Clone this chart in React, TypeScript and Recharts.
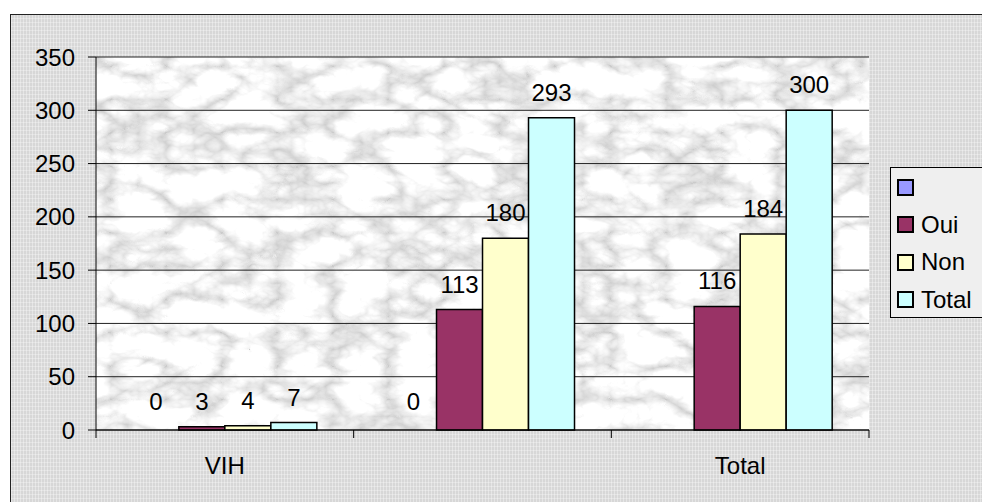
import { Bar, BarChart, CartesianGrid, LabelList, XAxis, YAxis } from "recharts";

const categories = ["VIH", "", "Total"];
const blankValues = [0, 0, null];
const ouiValues = [3, 113, 116];
const nonValues = [4, 180, 184];
const totalValues = [7, 293, 300];
const yTicks = [0, 50, 100, 150, 200, 250, 300, 350];

const series = [
  { key: "blank", name: "", values: blankValues, color: "#9999ff" },
  { key: "oui", name: "Oui", values: ouiValues, color: "#993366" },
  { key: "non", name: "Non", values: nonValues, color: "#ffffcc" },
  { key: "total", name: "Total", values: totalValues, color: "#ccffff" },
];

const data = categories.map((cat, i) => {
  const row: Record<string, string | number | null> = { cat };
  series.forEach((s) => {
    row[s.key] = s.values[i];
  });
  return row;
});

const W = 982;
const H = 502;
const margin = { top: 57, right: 113, bottom: 32, left: 36 };
const yAxisWidth = 60;
const band = (W - margin.left - margin.right - yAxisWidth) / categories.length;
const font = "'Liberation Sans', Arial, sans-serif";
const labelSize = 24;

function XTick(props: any) {
  const { x, y, payload, index } = props;
  return (
    <g>
      <line x1={x - band / 2} x2={x - band / 2} y1={y} y2={y + 8} stroke="#000" />
      {index === categories.length - 1 && (
        <line x1={x + band / 2} x2={x + band / 2} y1={y} y2={y + 8} stroke="#000" />
      )}
      <text x={x} y={y + 44} textAnchor="middle" fontSize={labelSize} fontFamily={font} fill="#000">
        {payload.value}
      </text>
    </g>
  );
}

// bar shape that also writes its own value label, so zero-height bars still get one
function LabelledBar(props: any) {
  const { x, y, width, height, fill, value } = props;
  const v = Array.isArray(value) ? value[1] - value[0] : value;
  if (v === null || v === undefined) return null;
  return (
    <g>
      {height > 0 && (
        <rect x={x} y={y} width={width} height={height} fill={fill} stroke="#000" strokeWidth={1.5} />
      )}
      <text
        x={x + width / 2}
        y={y - 20}
        textAnchor="middle"
        fontSize={labelSize}
        fontFamily={font}
        fill="#000"
      >
        {v}
      </text>
    </g>
  );
}

export default function App() {
  return (
    <div style={{ position: "relative", width: W, height: H, overflow: "hidden", fontFamily: font }}>
      <style>{`body{margin:0}`}</style>
      <div
        style={{
          position: "absolute",
          left: 10,
          top: 14,
          width: 1000,
          height: 520,
          border: "1px solid #222",
          backgroundColor: "#d7d7d7",
          backgroundImage:
            "repeating-linear-gradient(90deg, rgba(255,255,255,0.35) 0 1px, transparent 1px 3px), repeating-linear-gradient(0deg, rgba(255,255,255,0.3) 0 1px, transparent 1px 4px)",
        }}
      />
      <div style={{ position: "absolute", left: 0, top: 0 }}>
        <BarChart width={W} height={H} data={data} margin={margin} barGap={0} barCategoryGap="14.3%">
          <defs>
            <filter id="marbleF" x="0" y="0" width="100%" height="100%">
              <feTurbulence type="turbulence" baseFrequency="0.018 0.03" numOctaves={4} seed={3} />
              <feColorMatrix
                type="matrix"
                values="1.0 0 0 0 0.6  1.0 0 0 0 0.6  1.0 0 0 0 0.6  0 0 0 0 1"
              />
            </filter>
            <pattern id="marble" patternUnits="userSpaceOnUse" x="0" y="0" width={W} height={H}>
              <rect x="0" y="0" width={W} height={H} fill="#ddd" filter="url(#marbleF)" />
            </pattern>
          </defs>
          <CartesianGrid
            yAxisId="left"
            vertical={false}
            stroke="#222"
            fill="url(#marble)"
            fillOpacity={1}
          />
          <XAxis
            dataKey="cat"
            height={40}
            axisLine={{ stroke: "#000" }}
            tickLine={false}
            tickSize={0}
            tickMargin={0}
            interval={0}
            tick={<XTick />}
          />
          <YAxis
            yAxisId="left"
            width={yAxisWidth}
            domain={[0, 350]}
            ticks={yTicks}
            interval={0}
            axisLine={{ stroke: "#000" }}
            tickLine={{ stroke: "#000" }}
            tickSize={8}
            tickMargin={13}
            tick={{ fill: "#000", fontSize: labelSize, fontFamily: font }}
          />
          <YAxis
            yAxisId="right"
            orientation="right"
            width={0}
            domain={[0, 350]}
            tick={false}
            tickLine={false}
            axisLine={{ stroke: "#808080", strokeWidth: 2 }}
          />
          <Bar
            yAxisId="left"
            dataKey="blank"
            name=""
            fill={series[0].color}
            stroke="#000"
            isAnimationActive={false}
            shape={<LabelledBar />}
          />
          {series.slice(1).map((s) => (
            <Bar
              key={s.key}
              yAxisId="left"
              dataKey={s.key}
              name={s.name}
              fill={s.color}
              stroke="#000"
              strokeWidth={1.5}
              isAnimationActive={false}
            >
              <LabelList
                dataKey={s.key}
                position="top"
                offset={17}
                fill="#000"
                fontSize={labelSize}
                fontFamily={font}
              />
            </Bar>
          ))}
        </BarChart>
      </div>
      <div
        style={{
          position: "absolute",
          left: 890,
          top: 167,
          width: 110,
          height: 151,
          border: "1px solid #000",
          background: "#efefef",
          boxSizing: "border-box",
        }}
      >
        {series.map((s, i) => (
          <div
            key={s.key}
            style={{
              position: "absolute",
              left: 6,
              top: 10 + i * 37.5,
              height: 18,
              display: "flex",
              alignItems: "center",
              fontSize: labelSize,
              lineHeight: "18px",
              color: "#000",
            }}
          >
            <span
              style={{
                display: "inline-block",
                width: 13,
                height: 13,
                border: "2px solid #000",
                background: s.color,
                marginRight: 7,
              }}
            />
            {s.name}
          </div>
        ))}
      </div>
    </div>
  );
}
